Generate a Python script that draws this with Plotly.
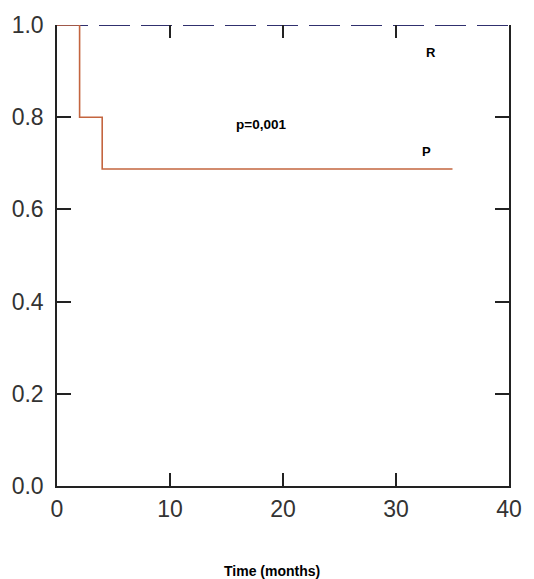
import plotly.graph_objects as go

# Kaplan-Meier step data
time_P = [0, 2, 2, 4, 4, 35]
surv_P = [1.0, 1.0, 0.8, 0.8, 0.6875, 0.6875]
time_R = [0, 40]
surv_R = [1.0, 1.0]

x_ticks = [0, 10, 20, 30, 40]
y_ticks = [0.0, 0.2, 0.4, 0.6, 0.8, 1.0]
y_tick_labels = ["0.0", "0.2", "0.4", "0.6", "0.8", "1.0"]

FONT = "Liberation Sans, Arial, sans-serif"

fig = go.Figure()
fig.add_trace(go.Scatter(x=time_R, y=surv_R, mode="lines",
                         line=dict(color="#30306e", width=2, dash="31px,11px"),
                         showlegend=False, hoverinfo="skip"))
fig.add_trace(go.Scatter(x=time_P, y=surv_P, mode="lines",
                         line=dict(color="#c4653f", width=1.6),
                         showlegend=False, hoverinfo="skip"))
# dummy trace for top axis ticks
fig.add_trace(go.Scatter(x=[0, 40], y=[0, 0], xaxis="x2", mode="lines",
                         line=dict(width=0), showlegend=False, hoverinfo="skip"))

fig.update_layout(
    width=534, height=579,
    margin=dict(l=54, r=20, t=25, b=93),
    paper_bgcolor="white", plot_bgcolor="white",
    font=dict(family=FONT, color="#333333"),
    xaxis=dict(range=[0, 40], tickvals=x_ticks, ticks="inside", ticklen=13,
               tickwidth=1.5, tickcolor="#222222", showline=True, linecolor="#222222",
               linewidth=1.5, showgrid=False, zeroline=False, mirror=False,
               tickfont=dict(size=23, color="#333333"), ticklabelstandoff=2),
    xaxis2=dict(range=[0, 40], tickvals=x_ticks, ticks="inside", ticklen=13,
                tickwidth=1.5, tickcolor="#222222", showline=False, overlaying="x",
                side="top", showticklabels=False, showgrid=False, zeroline=False),
    yaxis=dict(range=[0, 1.0], tickvals=y_ticks, ticktext=y_tick_labels,
               ticks="inside", ticklen=14, tickwidth=1.5, tickcolor="#222222",
               showline=True, linecolor="#222222", linewidth=1.5, mirror="ticks",
               showgrid=False, zeroline=False, ticklabelstandoff=7,
               tickfont=dict(size=23, color="#333333")),
    annotations=[
        dict(x=33.1, y=0.94, xref="x", yref="y", text="<b>R</b>", showarrow=False,
             font=dict(size=13, color="black", family=FONT)),
        dict(x=32.7, y=0.725, xref="x", yref="y", text="<b>P</b>", showarrow=False,
             font=dict(size=13, color="black", family=FONT)),
        dict(x=18.07, y=0.785, xref="x", yref="y", text="<b>p=0,001</b>", showarrow=False,
             font=dict(size=13.5, color="black", family=FONT)),
        dict(x=0.476, y=-0.205, xref="paper", yref="paper", text="<b>Time (months)</b>",
             showarrow=False, font=dict(size=14, color="black", family=FONT)),
    ],
)

fig.write_html("out.html")
